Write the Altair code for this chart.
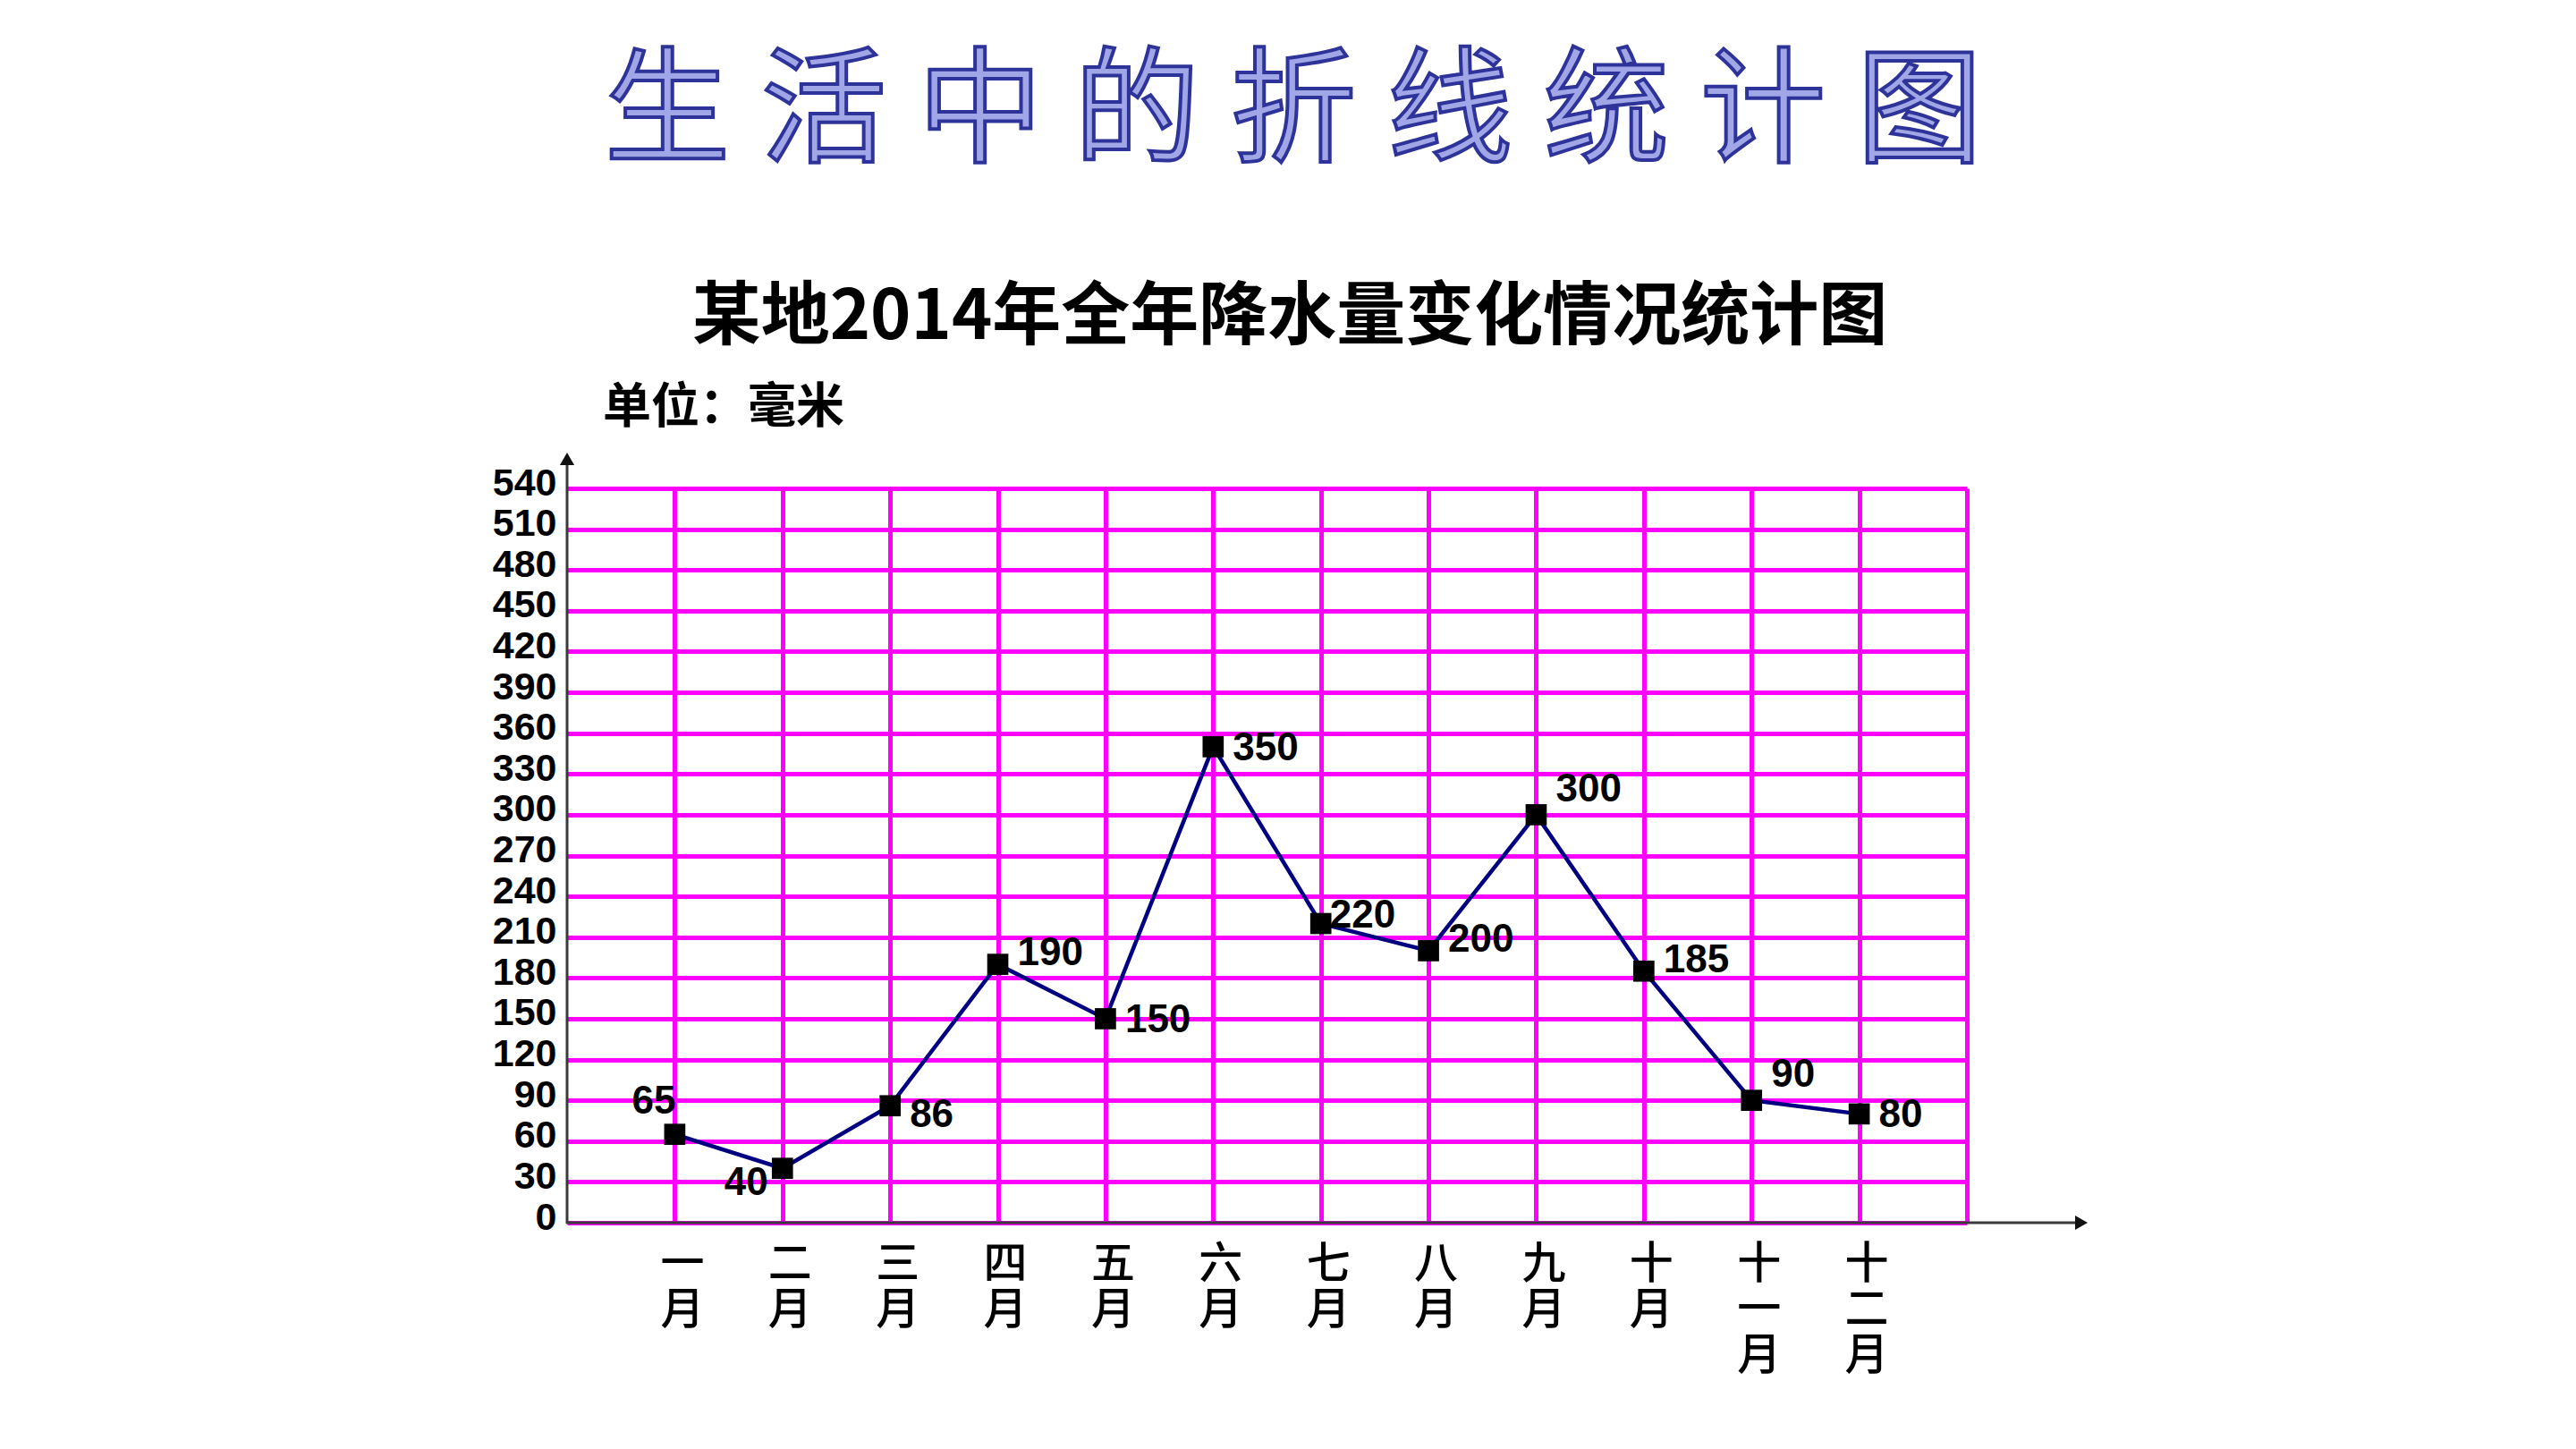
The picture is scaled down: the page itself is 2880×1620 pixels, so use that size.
import json
import altair as alt
import pandas as pd

# ---------------- data ----------------
main_title = "生活中的折线统计图"
sub_title = "某地2014年全年降水量变化情况统计图"
unit_text = "单位：毫米"
months = ["一月", "二月", "三月", "四月", "五月", "六月",
          "七月", "八月", "九月", "十月", "十一月", "十二月"]
rainfall = [65, 40, 86, 190, 150, 350, 220, 200, 300, 185, 90, 80]
y_ticks = list(range(0, 541, 30))
x_grid = list(range(1, 14))

W, H = 1565, 821

df = pd.DataFrame({"idx": list(range(1, len(months) + 1)),
                   "month": months, "value": rainfall})
one = pd.DataFrame({"k": [0]})

GRID = "#ff00ff"
AXIS = "#3a3a3a"
NUM_FONT = "Liberation Sans"
CJK_FONT = "Noto Sans CJK SC"

month_js = json.dumps(months, ensure_ascii=False)
x_label_expr = ("datum.value >= 1 && datum.value <= 12 ? split(" + month_js +
                "[datum.value - 1], '') : ''")

x_enc = alt.X(
    "idx:Q",
    scale=alt.Scale(domain=[0, 13], nice=False, zero=False),
    axis=alt.Axis(values=x_grid, grid=True, gridColor=GRID, gridWidth=5,
                  gridOpacity=1, domain=False, ticks=False, title=None,
                  labelExpr=x_label_expr, labelFont=CJK_FONT, labelFontSize=49,
                  labelFontWeight=500, labelLineHeight=51, labelBaseline="top",
                  labelAlign="center", labelPadding=22, labelOffset=8,
                  labelColor="black", labelAngle=0, labelOverlap=False,
                  labelFlush=False, labelBound=False),
)
y_enc = alt.Y(
    "value:Q",
    scale=alt.Scale(domain=[0, 540], nice=False, zero=True),
    axis=alt.Axis(values=y_ticks, grid=True, gridColor=GRID, gridWidth=5,
                  gridOpacity=1, domain=False, ticks=False, title=None,
                  labelFont=NUM_FONT, labelFontWeight="bold", labelFontSize=43,
                  labelColor="black", labelPadding=12, labelBaseline="middle",
                  labelOffset=-6, labelOverlap=False, labelFlush=False,
                  labelBound=False),
)

base = alt.Chart(df).encode(x=x_enc, y=y_enc)

line = base.mark_line(color="#000080", strokeWidth=4.5)
pts = base.mark_square(size=560, color="black", opacity=1)


def label_layer(sel, align, dx, dy):
    return base.transform_filter(
        alt.FieldOneOfPredicate(field="idx", oneOf=sel)
    ).mark_text(align=align, baseline="middle", dx=dx, dy=dy, font=NUM_FONT,
                fontWeight="bold", fontSize=44, color="black").encode(
        text="value:Q")


labels = [
    label_layer([1], "right", 1, -36),
    label_layer([2], "right", -16, 17),
    label_layer([3], "left", 22, 11),
    label_layer([4, 8, 10], "left", 22, -12),
    label_layer([5, 6, 12], "left", 22, 2),
    label_layer([7], "left", 10, -9),
    label_layer([9, 11], "left", 22, -28),
]

# axis lines with arrows
y_axis_line = alt.Chart(one).mark_rule(color=AXIS, strokeWidth=3).encode(
    x=alt.value(0), y=alt.value(H + 1), y2=alt.value(-34))
x_axis_line = alt.Chart(one).mark_rule(color=AXIS, strokeWidth=3).encode(
    x=alt.value(-1), x2=alt.value(1690), y=alt.value(H))
y_arrow = alt.Chart(one).mark_point(shape="triangle-up", filled=True, size=260,
                                    color="#111111", opacity=1).encode(
    x=alt.value(0), y=alt.value(-33))
x_arrow = alt.Chart(one).mark_point(shape="triangle-right", filled=True, size=260,
                                    color="#111111", opacity=1).encode(
    x=alt.value(1693), y=alt.value(H))

# titles
spaced_title = "\u2005".join(main_title)
title_layer = alt.Chart(pd.DataFrame({"t": [spaced_title]})).mark_text(
    font=CJK_FONT, fontSize=140, fill="#a0a6e6", stroke="#2e3399",
    strokeWidth=4, align="center", baseline="middle").encode(
    x=alt.value(812), y=alt.value(-418), text="t:N")
sub_layer = alt.Chart(pd.DataFrame({"t": [sub_title]})).mark_text(
    font=CJK_FONT, fontSize=77, fontWeight="bold", color="black",
    align="center", baseline="middle").encode(
    x=alt.value(808), y=alt.value(-190), text="t:N")
unit_layer = alt.Chart(pd.DataFrame({"t": [unit_text]})).mark_text(
    font=CJK_FONT, fontSize=54, fontWeight="bold", color="black",
    align="left", baseline="middle").encode(
    x=alt.value(40), y=alt.value(-89), text="t:N")

chart = alt.layer(
    line, pts, *labels, y_axis_line, x_axis_line, y_arrow, x_arrow,
    title_layer, sub_layer, unit_layer,
).properties(
    width=W, height=H,
    autosize=alt.AutoSizeParams(type="none"),
    padding={"left": 626, "top": 538, "right": 673, "bottom": 245},
    background="white",
).configure_view(strokeWidth=0)

chart.save("out.html", embed_options={"renderer": "svg", "actions": False})
